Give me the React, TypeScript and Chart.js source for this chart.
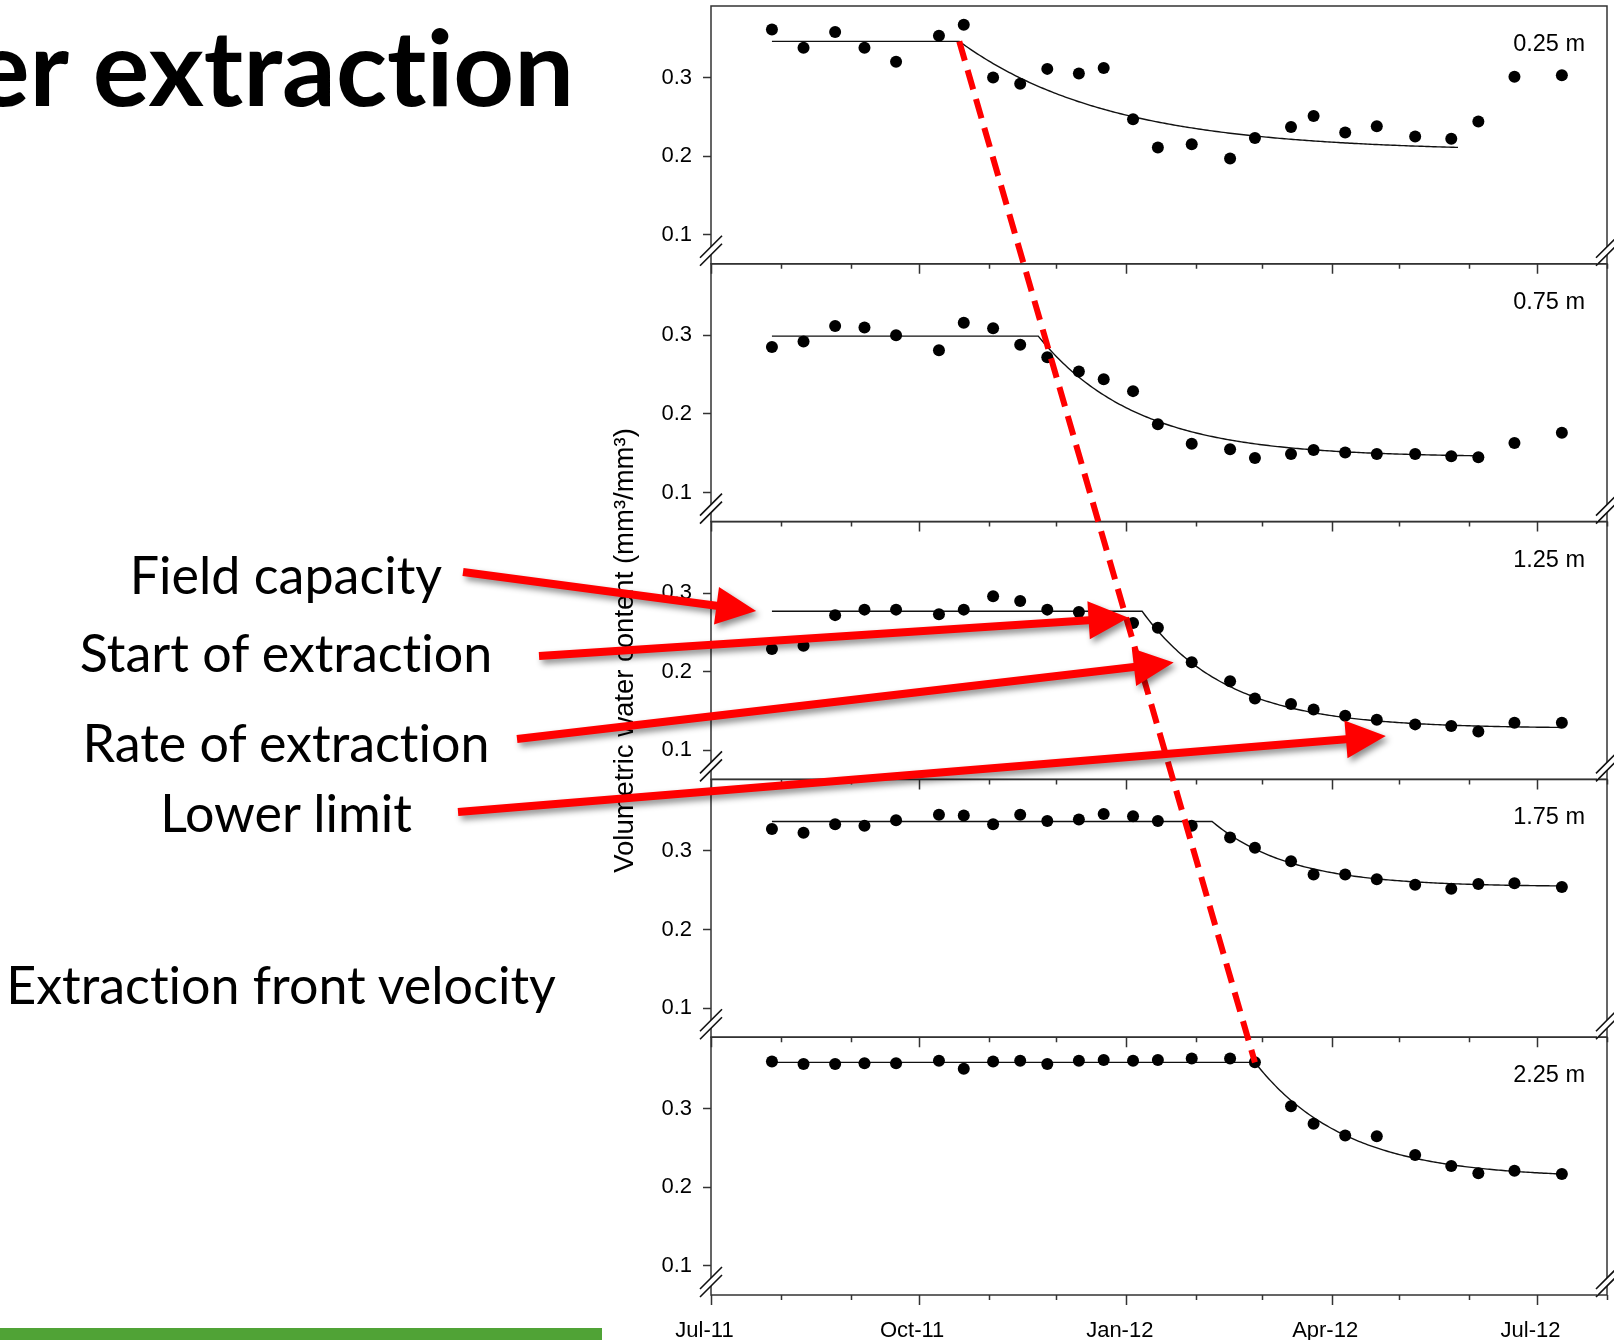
import React, { useEffect, useRef } from "react";
import { Chart, registerables } from "chart.js";

Chart.register(...registerables);

// Sampling dates shared by every depth
const sampleDates = [
  "2011-07-28", "2011-08-11", "2011-08-25", "2011-09-07", "2011-09-21", "2011-10-10",
  "2011-10-21", "2011-11-03", "2011-11-15", "2011-11-27", "2011-12-11", "2011-12-22",
  "2012-01-04", "2012-01-15", "2012-01-30", "2012-02-16", "2012-02-27", "2012-03-14",
  "2012-03-24", "2012-04-07", "2012-04-21", "2012-05-08", "2012-05-24", "2012-06-05",
  "2012-06-21", "2012-07-12",
];

const depths = ["0.25 m", "0.75 m", "1.25 m", "1.75 m", "2.25 m"];

// Volumetric water content (mm3/mm3) per depth
const theta025 = [0.361, 0.338, 0.358, 0.338, 0.320, 0.353, 0.367, 0.300, 0.292, 0.311, 0.305, 0.312, 0.247, 0.211, 0.215, 0.197, 0.223, 0.237, 0.251, 0.230, 0.238, 0.225, 0.222, 0.244, 0.301, 0.303];
const theta075 = [0.285, 0.292, 0.312, 0.310, 0.300, 0.281, 0.316, 0.309, 0.288, 0.272, 0.254, 0.244, 0.229, 0.187, 0.162, 0.155, 0.144, 0.149, 0.154, 0.151, 0.149, 0.149, 0.146, 0.145, 0.163, 0.176];
const theta125 = [0.229, 0.233, 0.272, 0.279, 0.279, 0.273, 0.279, 0.296, 0.290, 0.279, 0.276, 0.272, 0.262, 0.256, 0.212, 0.188, 0.166, 0.159, 0.152, 0.144, 0.139, 0.133, 0.131, 0.124, 0.135, 0.135];
const theta175 = [0.328, 0.323, 0.334, 0.332, 0.339, 0.346, 0.345, 0.334, 0.346, 0.338, 0.340, 0.347, 0.344, 0.338, 0.332, 0.317, 0.304, 0.287, 0.270, 0.270, 0.264, 0.257, 0.252, 0.258, 0.259, 0.254];
const theta225 = [0.360, 0.357, 0.357, 0.358, 0.358, 0.361, 0.351, 0.360, 0.361, 0.357, 0.361, 0.362, 0.361, 0.362, 0.364, 0.364, 0.359, 0.303, 0.281, 0.266, 0.265, 0.241, 0.227, 0.218, 0.221, 0.217];
const thetaByDepth = [theta025, theta075, theta125, theta175, theta225];

// Fitted extraction model per depth: plateau at field capacity, then
// exponential decay towards the lower limit from the start of extraction
const fieldCapacity = [0.346, 0.299, 0.277, 0.3375, 0.359];
const extractionStart = ["2011-10-19", "2011-11-23", "2012-01-08", "2012-02-08", "2012-02-27"];
const extractionRate = [0.015, 0.023, 0.0265, 0.029, 0.025]; // per day
const lowerLimit = [0.206, 0.145, 0.128, 0.2545, 0.212];
const fitEnd = ["2012-05-27", "2012-06-07", "2012-07-12", "2012-07-12", "2012-07-12"];

// Axes
const axisStart = "2011-07-01";
const axisEnd = "2012-08-01";
const monthTicks = [
  "2011-07-01", "2011-08-01", "2011-09-01", "2011-10-01", "2011-11-01", "2011-12-01",
  "2012-01-01", "2012-02-01", "2012-03-01", "2012-04-01", "2012-05-01", "2012-06-01",
  "2012-07-01", "2012-08-01",
];
const labelledTicks = ["2011-07-01", "2011-10-01", "2012-01-01", "2012-04-01", "2012-07-01"];
const tickLabels = ["Jul-11", "Oct-11", "Jan-12", "Apr-12", "Jul-12"];
const yTicks = [0.1, 0.2, 0.3];
const yMin = 0.063;
const yMax = 0.391;
const yTitle = "Volumetric water content (mm³/mm³)";

// Callouts pointing at the 1.25 m curve
const calloutLabels = ["Field capacity", "Start of extraction", "Rate of extraction", "Lower limit"];
const calloutTipDates = ["2011-07-21", "2012-01-02", "2012-01-22", "2012-04-25"];
const calloutTipValues = [0.2772, 0.2687, 0.2118, 0.1181];
const frontLabel = "Extraction front velocity";
const titleText = "er extraction";

// layout of the slide (pixels)
const calloutTails = [[463, 572], [539, 656], [517, 739], [458, 812]];
const calloutBaselines = [594, 672, 762, 832];
const frontBaseline = 1004;
const labelCenterX = 286;

const DAY = 86400000;
const dayOf = (d: string) => (Date.parse(d + "T00:00:00Z") - Date.parse(axisStart + "T00:00:00Z")) / DAY;

const CHART_FONT = "'Liberation Sans', Arial, sans-serif";
const SLIDE_FONT = "Lato, 'Open Sans', sans-serif";

function fitCurve(i: number) {
  const t0 = dayOf(sampleDates[0]);
  const ts = dayOf(extractionStart[i]);
  const te = dayOf(fitEnd[i]);
  const fc = fieldCapacity[i];
  const ll = lowerLimit[i];
  const k = extractionRate[i];
  const pts = [{ x: t0, y: fc }, { x: ts, y: fc }];
  for (let t = ts + 1; t <= te; t++) {
    pts.push({ x: t, y: ll + (fc - ll) * Math.exp(-k * (t - ts)) });
  }
  return pts;
}

function drawArrow(ctx: CanvasRenderingContext2D, x0: number, y0: number, x1: number, y1: number) {
  const dx = x1 - x0;
  const dy = y1 - y0;
  const len = Math.hypot(dx, dy);
  const ux = dx / len, uy = dy / len;
  const nx = -uy, ny = ux;
  const hl = 40, hw = 19, sw = 4;
  const bx = x1 - ux * hl, by = y1 - uy * hl;
  ctx.beginPath();
  ctx.moveTo(x0 + nx * sw, y0 + ny * sw);
  ctx.lineTo(bx + nx * sw, by + ny * sw);
  ctx.lineTo(bx + nx * hw, by + ny * hw);
  ctx.lineTo(x1, y1);
  ctx.lineTo(bx - nx * hw, by - ny * hw);
  ctx.lineTo(bx - nx * sw, by - ny * sw);
  ctx.lineTo(x0 - nx * sw, y0 - ny * sw);
  ctx.closePath();
  ctx.fill();
}

const panelIds = ["y1", "y2", "y3", "y4", "y5"];

const decorPlugin = {
  id: "panelDecor",
  beforeDatasetsDraw(chart: any) {
    const ctx: CanvasRenderingContext2D = chart.ctx;
    const { left, right } = chart.chartArea;
    const xs = chart.scales.x;
    const majors = labelledTicks.map(dayOf);
    ctx.save();
    ctx.strokeStyle = "#333";
    ctx.lineWidth = 1.5;
    panelIds.forEach((id) => {
      const s = chart.scales[id];
      ctx.strokeRect(left, s.top, right - left, s.bottom - s.top);
      // month ticks hanging below each panel's lower edge
      ctx.beginPath();
      monthTicks.forEach((d) => {
        const v = dayOf(d);
        const px = Math.round(xs.getPixelForValue(v)) + 0.5;
        const len = majors.includes(v) ? 10 : 5;
        ctx.moveTo(px, s.bottom);
        ctx.lineTo(px, s.bottom + len);
      });
      ctx.stroke();
    });
    // axis break marks
    panelIds.forEach((id) => {
      const s = chart.scales[id];
      [left, right].forEach((cx) => {
        const cy = s.bottom - 13;
        const h = 10, g = 4;
        ctx.fillStyle = "#fff";
        ctx.beginPath();
        ctx.moveTo(cx - h, cy - g + h);
        ctx.lineTo(cx + h, cy - g - h);
        ctx.lineTo(cx + h, cy + g - h);
        ctx.lineTo(cx - h, cy + g + h);
        ctx.closePath();
        ctx.fill();
        ctx.beginPath();
        ctx.moveTo(cx - h - 1, cy - g + h + 1);
        ctx.lineTo(cx + h + 1, cy - g - h - 1);
        ctx.moveTo(cx - h - 1, cy + g + h + 1);
        ctx.lineTo(cx + h + 1, cy + g - h - 1);
        ctx.strokeStyle = "#111";
        ctx.lineWidth = 1.6;
        ctx.stroke();
      });
    });
    ctx.restore();
  },
  afterDatasetsDraw(chart: any) {
    const ctx: CanvasRenderingContext2D = chart.ctx;
    const { left, right, top, bottom } = chart.chartArea;
    const xs = chart.scales.x;
    ctx.save();
    // depth labels
    ctx.fillStyle = "#000";
    ctx.font = `23.5px ${CHART_FONT}`;
    ctx.textAlign = "right";
    ctx.textBaseline = "alphabetic";
    panelIds.forEach((id, i) => {
      const s = chart.scales[id];
      ctx.fillText(depths[i], right - 22, s.top + 45);
    });
    // shared y-axis title
    ctx.save();
    ctx.translate(left - 86, (top + bottom) / 2);
    ctx.rotate(-Math.PI / 2);
    ctx.textAlign = "center";
    ctx.textBaseline = "middle";
    ctx.font = `27.5px ${CHART_FONT}`;
    ctx.fillText(yTitle, 0, 0);
    ctx.restore();
    // extraction front: start of extraction at the shallowest and deepest layer
    const first = chart.scales[panelIds[0]];
    const last = chart.scales[panelIds[panelIds.length - 1]];
    ctx.strokeStyle = "#ff0000";
    ctx.lineWidth = 6;
    ctx.setLineDash([20, 10]);
    ctx.beginPath();
    ctx.moveTo(xs.getPixelForValue(dayOf(extractionStart[0])), first.getPixelForValue(fieldCapacity[0]));
    ctx.lineTo(
      xs.getPixelForValue(dayOf(extractionStart[4])),
      last.getPixelForValue(fieldCapacity[4])
    );
    ctx.stroke();
    ctx.setLineDash([]);
    // callout arrows
    const ref = chart.scales.y3;
    ctx.fillStyle = "#ff0000";
    ctx.shadowColor = "rgba(0,0,0,0.45)";
    ctx.shadowBlur = 6;
    ctx.shadowOffsetX = 3;
    ctx.shadowOffsetY = 4;
    calloutTipDates.forEach((d, i) => {
      const [tx, ty] = calloutTails[i];
      drawArrow(ctx, tx, ty, xs.getPixelForValue(dayOf(d)), ref.getPixelForValue(calloutTipValues[i]));
    });
    ctx.restore();
  },
};

function ExtractionChart() {
  const canvasRef = useRef<HTMLCanvasElement | null>(null);

  useEffect(() => {
    const canvas = canvasRef.current;
    if (!canvas) return;

    const datasets: any[] = [];
    thetaByDepth.forEach((vals, i) => {
      datasets.push({
        type: "scatter",
        label: depths[i],
        yAxisID: panelIds[i],
        xAxisID: "x",
        data: vals.map((v, j) => ({ x: dayOf(sampleDates[j]), y: v })),
        pointRadius: 6,
        pointBackgroundColor: "#000",
        pointBorderWidth: 0,
        order: 0,
      });
    });
    thetaByDepth.forEach((_, i) => {
      datasets.push({
        type: "line",
        label: depths[i] + " fit",
        yAxisID: panelIds[i],
        xAxisID: "x",
        data: fitCurve(i),
        borderColor: "#111",
        borderWidth: 1.4,
        pointRadius: 0,
        tension: 0,
        fill: false,
        order: 1,
      });
    });

    const majors = labelledTicks.map(dayOf);
    const scales: any = {
      x: {
        type: "linear",
        position: "bottom",
        min: 0,
        max: dayOf(axisEnd),
        afterBuildTicks: (s: any) => {
          s.ticks = monthTicks.map((d) => ({ value: dayOf(d) }));
        },
        afterFit: (s: any) => {
          s.height = 45;
          s.paddingLeft = 0;
          s.paddingRight = 0;
        },
        ticks: {
          autoSkip: false,
          maxRotation: 0,
          minRotation: 0,
          padding: 15,
          labelOffset: -6.5,
          color: "#000",
          font: { family: CHART_FONT, size: 22 },
          callback: (v: any) => {
            const idx = majors.indexOf(Number(v));
            return idx >= 0 ? tickLabels[idx] : "";
          },
        },
        grid: { display: false },
        border: { display: false },
      },
    };
    // later-defined stacked axes sit higher, so add the deepest layer first
    for (let i = panelIds.length - 1; i >= 0; i--) {
      scales[panelIds[i]] = {
        type: "linear",
        position: "left",
        stack: "depth",
        stackWeight: 1,
        min: yMin,
        max: yMax,
        afterBuildTicks: (s: any) => {
          s.ticks = yTicks.map((v) => ({ value: v }));
        },
        afterFit: (s: any) => {
          s.width = 60;
          s.paddingTop = 0;
          s.paddingBottom = 0;
        },
        ticks: {
          color: "#000",
          padding: 11,
          font: { family: CHART_FONT, size: 22 },
          callback: (v: any) => Number(v).toFixed(1),
        },
        grid: {
          display: true,
          drawOnChartArea: false,
          drawTicks: true,
          tickLength: 8,
          tickColor: "#333",
          tickWidth: 1.5,
        },
        border: { display: false },
      };
    }

    const chart = new Chart(canvas, {
      type: "scatter",
      data: { datasets },
      options: {
        animation: false,
        responsive: false,
        devicePixelRatio: 1,
        events: [],
        layout: { autoPadding: false, padding: { left: 651, top: 6, right: 7, bottom: 0 } },
        plugins: { legend: { display: false }, tooltip: { enabled: false }, title: { display: false } },
        scales,
      },
      plugins: [decorPlugin],
    } as any);

    return () => chart.destroy();
  }, []);

  return <canvas ref={canvasRef} width={1614} height={1340} style={{ position: "absolute", left: 0, top: 0 }} />;
}

function SlideText({ text, baseline, size, weight, center, left }: any) {
  const style: any = {
    position: "absolute",
    top: baseline - 0.887 * size,
    fontFamily: SLIDE_FONT,
    fontSize: size,
    fontWeight: weight || 400,
    lineHeight: 1,
    whiteSpace: "nowrap",
    color: "#000",
    fontVariantLigatures: "none",
    fontFeatureSettings: "'liga' 0, 'dlig' 0",
  };
  if (center !== undefined) {
    style.left = center;
    style.transform = "translateX(-50%)";
  } else {
    style.left = left;
  }
  return <div style={style}>{text}</div>;
}

export default function App() {
  return (
    <div style={{ position: "absolute", left: 0, top: 0, width: 1614, height: 1340, background: "#fff", overflow: "hidden" }}>
      <ExtractionChart />
      <SlideText text={titleText} baseline={106} size={106} weight={700} left={-27} />
      {calloutLabels.map((t, i) => (
        <SlideText key={t} text={t} baseline={calloutBaselines[i]} size={52} center={labelCenterX} />
      ))}
      <SlideText text={frontLabel} baseline={frontBaseline} size={52} center={labelCenterX - 5} />
      <div style={{ position: "absolute", left: 0, top: 1328, width: 602, height: 12, background: "#50a336" }} />
    </div>
  );
}
